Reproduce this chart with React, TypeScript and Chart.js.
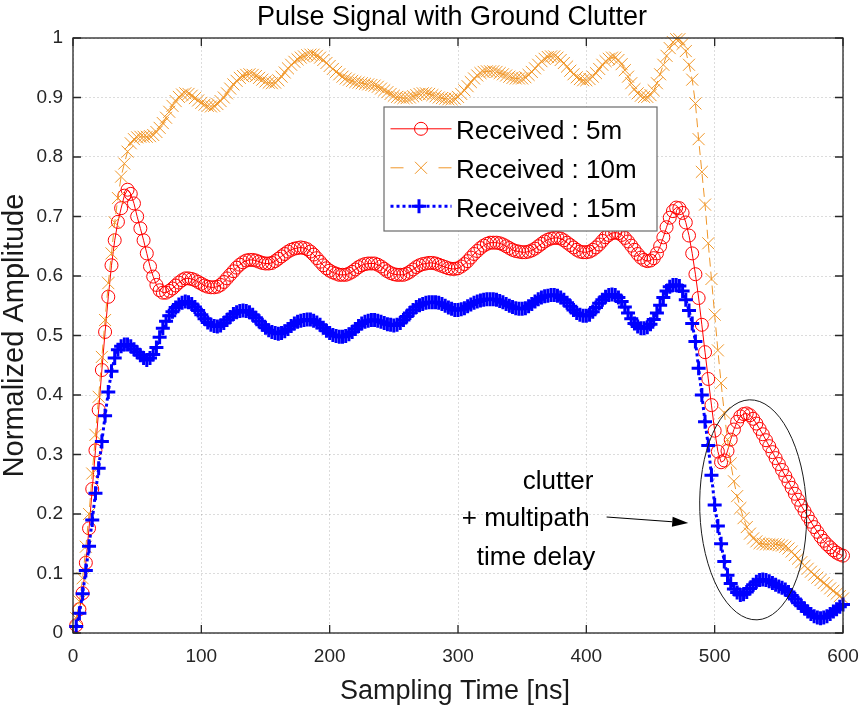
import React, { useEffect, useRef } from "react";
import { Chart, registerables } from "chart.js";

Chart.register(...registerables);

const FONT = "'Liberation Sans', Arial, Helvetica, sans-serif";

const TITLE = "Pulse Signal with Ground Clutter";
const X_LABEL = "Sampling Time [ns]";
const Y_LABEL = "Normalized Amplitude";
const SERIES_NAMES = ["Received : 5m", "Received : 10m", "Received : 15m"];
const ANNOTATION_LINES = ["clutter", "+ multipath", "time delay"];

const X_TICKS = [0, 100, 200, 300, 400, 500, 600];
const X_TICK_LABELS = ["0", "100", "200", "300", "400", "500", "600"];
const Y_TICKS = [0, 0.1, 0.2, 0.3, 0.4, 0.5, 0.6, 0.7, 0.8, 0.9, 1];
const Y_TICK_LABELS = ["0", "0.1", "0.2", "0.3", "0.4", "0.5", "0.6", "0.7", "0.8", "0.9", "1"];

// sampling: first sample at 2.5 ns, one sample every 2.5 ns up to 600 ns
const FIRST_SAMPLE_NS = 2.5;
const SAMPLE_STEP_NS = 2.5;

const received5m = [
  0.013, 0.04, 0.067, 0.118, 0.176, 0.242, 0.307, 0.375, 0.442, 0.506, 0.565, 0.618, 0.66, 0.691, 0.714, 0.735, 0.745, 0.738, 0.722, 0.70,
  0.68, 0.66, 0.638, 0.616, 0.599, 0.585, 0.576, 0.572, 0.572, 0.575, 0.579, 0.584, 0.589, 0.593, 0.596, 0.596, 0.595, 0.593, 0.59, 0.587,
  0.584, 0.582, 0.581, 0.581, 0.582, 0.585, 0.59, 0.596, 0.602, 0.608, 0.614, 0.619, 0.623, 0.626, 0.627, 0.627, 0.626, 0.624, 0.622, 0.621,
  0.621, 0.622, 0.625, 0.629, 0.633, 0.637, 0.641, 0.644, 0.646, 0.647, 0.648, 0.647, 0.645, 0.641, 0.636, 0.63, 0.624, 0.618, 0.613, 0.609,
  0.606, 0.604, 0.602, 0.602, 0.602, 0.604, 0.607, 0.611, 0.615, 0.618, 0.62, 0.621, 0.621, 0.621, 0.619, 0.616, 0.612, 0.608, 0.605, 0.603,
  0.602, 0.602, 0.602, 0.604, 0.607, 0.611, 0.615, 0.618, 0.62, 0.621, 0.622, 0.622, 0.621, 0.619, 0.617, 0.615, 0.613, 0.612, 0.612, 0.613,
  0.616, 0.62, 0.625, 0.631, 0.637, 0.642, 0.647, 0.651, 0.654, 0.656, 0.656, 0.656, 0.655, 0.653, 0.65, 0.647, 0.644, 0.642, 0.641, 0.64,
  0.64, 0.641, 0.643, 0.646, 0.65, 0.654, 0.658, 0.661, 0.663, 0.664, 0.664, 0.663, 0.66, 0.656, 0.652, 0.648, 0.644, 0.641, 0.64, 0.64,
  0.641, 0.644, 0.648, 0.653, 0.659, 0.665, 0.669, 0.672, 0.673, 0.672, 0.669, 0.664, 0.658, 0.651, 0.644, 0.637, 0.631, 0.627, 0.625, 0.626,
  0.63, 0.638, 0.65, 0.665, 0.682, 0.698, 0.709, 0.715, 0.714, 0.706, 0.69, 0.668, 0.638, 0.603, 0.563, 0.518, 0.472, 0.427, 0.383, 0.34,
  0.305, 0.287, 0.29, 0.306, 0.325, 0.342, 0.355, 0.364, 0.368, 0.369, 0.366, 0.36, 0.352, 0.343, 0.334, 0.324, 0.314, 0.304, 0.294, 0.284,
  0.274, 0.264, 0.254, 0.244, 0.234, 0.224, 0.214, 0.205, 0.196, 0.187, 0.178, 0.17, 0.162, 0.155, 0.149, 0.144, 0.139, 0.135, 0.132, 0.13,
];

const received10m = [
  0.025, 0.053, 0.092, 0.145, 0.2, 0.268, 0.333, 0.397, 0.464, 0.526, 0.588, 0.638, 0.69, 0.731, 0.767, 0.789, 0.809, 0.823, 0.83, 0.833,
  0.834, 0.834, 0.834, 0.835, 0.837, 0.842, 0.849, 0.857, 0.866, 0.876, 0.886, 0.894, 0.901, 0.905, 0.907, 0.906, 0.903, 0.899, 0.895, 0.891,
  0.888, 0.886, 0.885, 0.886, 0.889, 0.894, 0.9, 0.907, 0.915, 0.922, 0.928, 0.933, 0.936, 0.938, 0.939, 0.938, 0.936, 0.933, 0.93, 0.927,
  0.925, 0.924, 0.925, 0.929, 0.935, 0.942, 0.949, 0.955, 0.96, 0.964, 0.967, 0.969, 0.971, 0.972, 0.972, 0.97, 0.967, 0.963, 0.958, 0.953,
  0.948, 0.943, 0.939, 0.935, 0.932, 0.93, 0.928, 0.926, 0.925, 0.924, 0.923, 0.922, 0.921, 0.92, 0.918, 0.915, 0.912, 0.909, 0.906, 0.903,
  0.901, 0.9, 0.899, 0.899, 0.9, 0.902, 0.904, 0.906, 0.907, 0.907, 0.906, 0.904, 0.902, 0.9, 0.899, 0.898, 0.897, 0.897, 0.898, 0.901,
  0.906, 0.912, 0.919, 0.926, 0.932, 0.937, 0.941, 0.943, 0.944, 0.944, 0.944, 0.943, 0.941, 0.939, 0.937, 0.935, 0.933, 0.932, 0.932, 0.932,
  0.934, 0.938, 0.943, 0.949, 0.955, 0.961, 0.965, 0.968, 0.969, 0.969, 0.967, 0.963, 0.958, 0.952, 0.945, 0.939, 0.934, 0.931, 0.929, 0.929,
  0.931, 0.935, 0.941, 0.948, 0.955, 0.961, 0.965, 0.967, 0.967, 0.963, 0.956, 0.946, 0.935, 0.924, 0.914, 0.907, 0.903, 0.901, 0.901, 0.904,
  0.912, 0.924, 0.939, 0.955, 0.97, 0.983, 0.993, 0.998, 0.998, 0.99, 0.978, 0.955, 0.93, 0.89, 0.83, 0.775, 0.72, 0.655, 0.595, 0.535,
  0.475, 0.42, 0.37, 0.325, 0.285, 0.255, 0.23, 0.21, 0.193, 0.178, 0.167, 0.159, 0.154, 0.151, 0.15, 0.149, 0.149, 0.149, 0.149, 0.148,
  0.147, 0.145, 0.142, 0.137, 0.131, 0.125, 0.119, 0.113, 0.108, 0.103, 0.098, 0.093, 0.089, 0.084, 0.08, 0.075, 0.071, 0.066, 0.062, 0.058,
];

const received15m = [
  0.011, 0.033, 0.066, 0.105, 0.146, 0.19, 0.235, 0.277, 0.322, 0.365, 0.405, 0.44, 0.462, 0.476, 0.482, 0.485, 0.485, 0.482, 0.477, 0.472,
  0.467, 0.462, 0.459, 0.462, 0.468, 0.48, 0.497, 0.512, 0.524, 0.533, 0.54, 0.547, 0.552, 0.555, 0.557, 0.556, 0.553, 0.548, 0.542, 0.535,
  0.528, 0.522, 0.518, 0.516, 0.515, 0.517, 0.521, 0.526, 0.531, 0.536, 0.539, 0.541, 0.542, 0.541, 0.539, 0.535, 0.53, 0.524, 0.518, 0.513,
  0.509, 0.506, 0.504, 0.503, 0.504, 0.507, 0.511, 0.516, 0.52, 0.523, 0.525, 0.526, 0.527, 0.527, 0.525, 0.522, 0.518, 0.513, 0.508, 0.504,
  0.501, 0.499, 0.498, 0.498, 0.499, 0.502, 0.506, 0.511, 0.516, 0.52, 0.523, 0.525, 0.526, 0.526, 0.525, 0.523, 0.521, 0.519, 0.518, 0.517,
  0.518, 0.521, 0.526, 0.532, 0.538, 0.543, 0.548, 0.551, 0.553, 0.555, 0.556, 0.556, 0.556, 0.555, 0.553, 0.55, 0.547, 0.545, 0.543, 0.543,
  0.544, 0.546, 0.549, 0.552, 0.555, 0.557, 0.559, 0.56, 0.561, 0.561, 0.561, 0.56, 0.558, 0.556, 0.553, 0.55, 0.548, 0.546, 0.545, 0.545,
  0.546, 0.549, 0.553, 0.557, 0.561, 0.564, 0.566, 0.567, 0.568, 0.568, 0.567, 0.564, 0.56, 0.555, 0.549, 0.543, 0.538, 0.535, 0.533, 0.533,
  0.535, 0.54, 0.547, 0.554, 0.56, 0.565, 0.568, 0.569, 0.568, 0.564, 0.557, 0.548, 0.538, 0.528, 0.52, 0.515, 0.512, 0.512, 0.514, 0.519,
  0.527, 0.538, 0.551, 0.564, 0.575, 0.582, 0.585, 0.585, 0.583, 0.575, 0.56, 0.542, 0.52, 0.49, 0.445, 0.40, 0.355, 0.315, 0.265, 0.215,
  0.18, 0.15, 0.12, 0.097, 0.083, 0.074, 0.068, 0.064, 0.065, 0.069, 0.075, 0.081, 0.086, 0.089, 0.09, 0.089, 0.087, 0.084, 0.081, 0.078,
  0.076, 0.073, 0.069, 0.063, 0.057, 0.051, 0.046, 0.041, 0.036, 0.032, 0.028, 0.026, 0.025, 0.026, 0.028, 0.032, 0.036, 0.04, 0.044, 0.048,
];

const RED = "#ff0000";
const ORANGE = "rgb(240,150,40)";
const BLUE = "#0000ff";
const AXIS_COLOR = "#262626";

const toPoints = (vals: number[]) =>
  vals.map((y, i) => ({ x: FIRST_SAMPLE_NS + i * SAMPLE_STEP_NS, y }));

function drawCircleMarker(ctx: CanvasRenderingContext2D, x: number, y: number, r: number, color: string) {
  ctx.beginPath();
  ctx.arc(x, y, r, 0, Math.PI * 2);
  ctx.strokeStyle = color;
  ctx.lineWidth = 1;
  ctx.setLineDash([]);
  ctx.stroke();
}
function drawXMarker(ctx: CanvasRenderingContext2D, x: number, y: number, r: number, color: string) {
  const d = r * Math.SQRT1_2;
  ctx.beginPath();
  ctx.moveTo(x - d, y - d);
  ctx.lineTo(x + d, y + d);
  ctx.moveTo(x - d, y + d);
  ctx.lineTo(x + d, y - d);
  ctx.strokeStyle = color;
  ctx.lineWidth = 1;
  ctx.setLineDash([]);
  ctx.stroke();
}
function drawPlusMarker(ctx: CanvasRenderingContext2D, x: number, y: number, r: number, color: string) {
  ctx.beginPath();
  ctx.moveTo(x - r, y);
  ctx.lineTo(x + r, y);
  ctx.moveTo(x, y - r);
  ctx.lineTo(x, y + r);
  ctx.strokeStyle = color;
  ctx.lineWidth = 3;
  ctx.setLineDash([]);
  ctx.stroke();
}

const decorPlugin = {
  id: "matlabDecor",
  afterDatasetsDraw(chart: any) {
    const { ctx, chartArea: ca, scales } = chart;
    const xs = scales.x;
    const ys = scales.y;
    ctx.save();

    // axes box
    ctx.strokeStyle = AXIS_COLOR;
    ctx.lineWidth = 1.3;
    ctx.setLineDash([]);
    ctx.strokeRect(ca.left, ca.top, ca.right - ca.left, ca.bottom - ca.top);

    // inward tick marks on all four sides
    const TL = 8;
    ctx.lineWidth = 1.3;
    ctx.beginPath();
    X_TICKS.forEach((v) => {
      const px = xs.getPixelForValue(v);
      ctx.moveTo(px, ca.bottom);
      ctx.lineTo(px, ca.bottom - TL);
      ctx.moveTo(px, ca.top);
      ctx.lineTo(px, ca.top + TL);
    });
    Y_TICKS.forEach((v) => {
      const py = ys.getPixelForValue(v);
      ctx.moveTo(ca.left, py);
      ctx.lineTo(ca.left + TL, py);
      ctx.moveTo(ca.right, py);
      ctx.lineTo(ca.right - TL, py);
    });
    ctx.stroke();

    // ellipse around clutter region
    const ecx = xs.getPixelForValue(530);
    const ecy = ys.getPixelForValue(0.207);
    const erx = xs.getPixelForValue(530 + 41.6) - ecx;
    const ery = ecy - ys.getPixelForValue(0.207 + 0.185);
    ctx.beginPath();
    ctx.ellipse(ecx, ecy, erx, ery, -0.035, 0, Math.PI * 2);
    ctx.strokeStyle = "#1a1a1a";
    ctx.lineWidth = 1;
    ctx.stroke();

    // arrow
    const ax0 = xs.getPixelForValue(415.8);
    const ay0 = ys.getPixelForValue(0.195);
    const ax1 = xs.getPixelForValue(479.4);
    const ay1 = ys.getPixelForValue(0.185);
    const ang = Math.atan2(ay1 - ay0, ax1 - ax0);
    const headLen = 16;
    const headW = 5;
    const bx = ax1 - headLen * Math.cos(ang);
    const by = ay1 - headLen * Math.sin(ang);
    ctx.beginPath();
    ctx.moveTo(ax0, ay0);
    ctx.lineTo(bx, by);
    ctx.strokeStyle = "#000";
    ctx.lineWidth = 1.2;
    ctx.stroke();
    ctx.beginPath();
    ctx.moveTo(ax1, ay1);
    ctx.lineTo(bx + headW * Math.sin(ang), by - headW * Math.cos(ang));
    ctx.lineTo(bx - headW * Math.sin(ang), by + headW * Math.cos(ang));
    ctx.closePath();
    ctx.fillStyle = "#000";
    ctx.fill();

    // annotation text
    ctx.font = `26px ${FONT}`;
    ctx.fillStyle = "#000";
    ctx.textAlign = "left";
    ctx.textBaseline = "alphabetic";
    const annPos = [
      [350.4, 0.242],
      [302.9, 0.18],
      [314.6, 0.114],
    ];
    ANNOTATION_LINES.forEach((t, i) => {
      ctx.fillText(t, xs.getPixelForValue(annPos[i][0]), ys.getPixelForValue(annPos[i][1]));
    });

    // legend box
    const lx = ca.left + 311;
    const ly = ca.top + 69;
    const lw = 273;
    const lh = 124;
    ctx.fillStyle = "#fff";
    ctx.fillRect(lx, ly, lw, lh);
    ctx.strokeStyle = "#6a6a6a";
    ctx.lineWidth = 1.2;
    ctx.strokeRect(lx, ly, lw, lh);

    const baselines = [32.3, 71.3, 109.7];
    const sx0 = lx + 6.5;
    const sx1 = lx + 67.5;
    const mx = lx + 37;
    ctx.font = `26px ${FONT}`;
    SERIES_NAMES.forEach((name, i) => {
      const by2 = ly + baselines[i];
      const cy = by2 - 10.5;
      ctx.beginPath();
      ctx.moveTo(sx0, cy);
      ctx.lineTo(sx1, cy);
      if (i === 0) {
        ctx.strokeStyle = RED;
        ctx.lineWidth = 1;
        ctx.setLineDash([]);
        ctx.stroke();
        drawCircleMarker(ctx, mx, cy, 6.5, RED);
      } else if (i === 1) {
        ctx.strokeStyle = ORANGE;
        ctx.lineWidth = 1;
        ctx.setLineDash([13, 35]);
        ctx.stroke();
        drawXMarker(ctx, mx, cy, 8.5, ORANGE);
      } else {
        ctx.strokeStyle = BLUE;
        ctx.lineWidth = 3;
        ctx.setLineDash([3, 3]);
        ctx.stroke();
        drawPlusMarker(ctx, mx - 2, cy, 7, BLUE);
      }
      ctx.setLineDash([]);
      ctx.fillStyle = "#000";
      ctx.textAlign = "left";
      ctx.textBaseline = "alphabetic";
      ctx.fillText(name, lx + 72, by2);
    });

    ctx.restore();
  },
  afterDraw(chart: any) {
    const { ctx, chartArea: ca } = chart;
    ctx.save();
    ctx.fillStyle = "#000";
    ctx.textBaseline = "alphabetic";
    ctx.textAlign = "center";
    // title
    ctx.font = `27px ${FONT}`;
    ctx.fillText(TITLE, (ca.left + ca.right) / 2 - 6, 25);
    // x label
    ctx.fillStyle = "#1a1a1a";
    ctx.font = `27px ${FONT}`;
    ctx.fillText(X_LABEL, (ca.left + ca.right) / 2 - 3, 699);
    // y label
    ctx.translate(23, (ca.top + ca.bottom) / 2);
    ctx.rotate(-Math.PI / 2);
    ctx.font = `29px ${FONT}`;
    ctx.fillText(Y_LABEL, 0, 0);
    ctx.restore();
  },
};

export default function App() {
  const ref = useRef<HTMLCanvasElement>(null);
  useEffect(() => {
    const canvas = ref.current;
    if (!canvas) return;
    const chart = new Chart(canvas, {
      type: "line",
      data: {
        datasets: [
          {
            label: SERIES_NAMES[0],
            data: toPoints(received5m),
            borderColor: RED,
            borderWidth: 1,
            pointStyle: "circle",
            pointRadius: 6.5,
            pointBorderWidth: 1,
            pointBorderColor: RED,
            pointBackgroundColor: "rgba(0,0,0,0)",
            tension: 0,
            clip: false,
            order: 3,
          },
          {
            label: SERIES_NAMES[1],
            data: toPoints(received10m),
            borderColor: ORANGE,
            borderWidth: 1,
            borderDash: [9, 5],
            pointStyle: "crossRot",
            pointRadius: 8.5,
            pointBorderWidth: 1,
            pointBorderColor: ORANGE,
            pointBackgroundColor: ORANGE,
            tension: 0,
            clip: false,
            order: 2,
          },
          {
            label: SERIES_NAMES[2],
            data: toPoints(received15m),
            borderColor: BLUE,
            borderWidth: 3,
            borderDash: [3, 3],
            pointStyle: "cross",
            pointRadius: 7,
            pointBorderWidth: 3,
            pointBorderColor: BLUE,
            pointBackgroundColor: BLUE,
            tension: 0,
            clip: false,
            order: 1,
          },
        ],
      },
      options: {
        responsive: false,
        maintainAspectRatio: false,
        devicePixelRatio: 1,
        animation: false,
        events: [],
        layout: { padding: { top: 38, right: 19, left: 0, bottom: 0 } },
        plugins: {
          legend: { display: false },
          title: { display: false },
          tooltip: { enabled: false },
        },
        scales: {
          x: {
            type: "linear",
            min: 0,
            max: 600,
            afterBuildTicks: (s: any) => {
              s.ticks = X_TICKS.map((v) => ({ value: v }));
            },
            afterFit: (s: any) => {
              s.height = 76;
              s.paddingLeft = 0;
              s.paddingRight = 0;
            },
            ticks: {
              autoSkip: false,
              maxRotation: 0,
              padding: 12,
              color: AXIS_COLOR,
              font: { family: FONT, size: 19 },
              callback: (_v: any, i: number) => X_TICK_LABELS[i],
            },
            grid: { color: "rgba(38,38,38,0.16)", lineWidth: 1, drawTicks: false },
            border: { display: false, dash: [2, 2] },
          },
          y: {
            type: "linear",
            min: 0,
            max: 1,
            afterBuildTicks: (s: any) => {
              s.ticks = Y_TICKS.map((v) => ({ value: v }));
            },
            afterFit: (s: any) => {
              s.width = 73;
              s.paddingTop = 0;
              s.paddingBottom = 0;
            },
            ticks: {
              autoSkip: false,
              padding: 10,
              color: AXIS_COLOR,
              font: { family: FONT, size: 19 },
              callback: (_v: any, i: number) => Y_TICK_LABELS[i],
            },
            grid: { color: "rgba(38,38,38,0.16)", lineWidth: 1, drawTicks: false },
            border: { display: false, dash: [2, 2] },
          },
        },
      },
      plugins: [decorPlugin],
    } as any);
    return () => chart.destroy();
  }, []);
  return (
    <div style={{ position: "fixed", left: 0, top: 0, width: 862, height: 709, background: "#fff" }}>
      <canvas ref={ref} width={862} height={709} style={{ display: "block", width: 862, height: 709 }} />
    </div>
  );
}
